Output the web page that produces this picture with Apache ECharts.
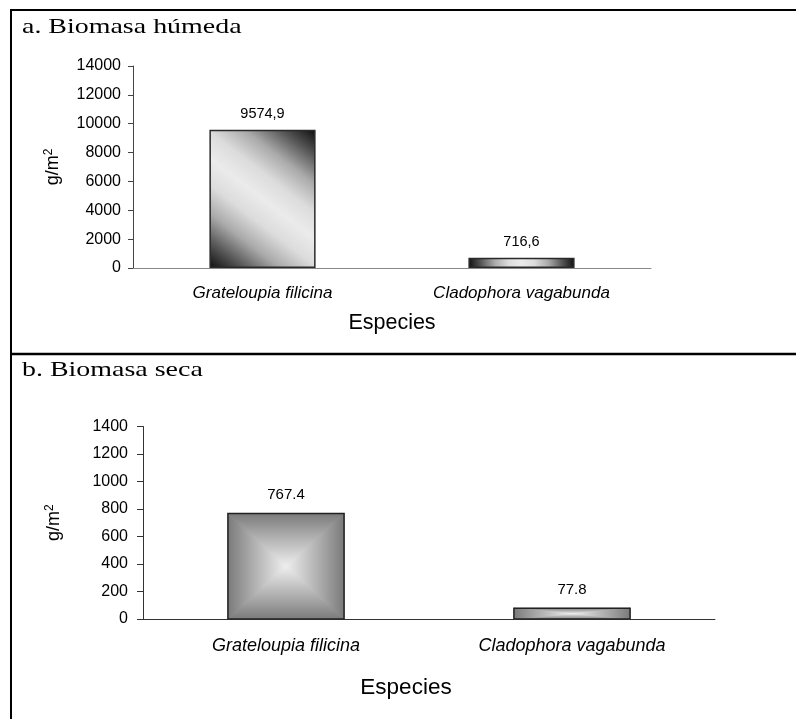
<!DOCTYPE html>
<html><head><meta charset="utf-8">
<script src="https://cdn.jsdelivr.net/npm/echarts@6/dist/echarts.min.js"></script>
<style>html,body{margin:0;padding:0;background:#fff}#c{width:796px;height:719px}</style>
</head><body><div id="c"></div>
<script>
// ---- data ----
const categories = ['Grateloupia filicina', 'Cladophora vagabunda'];
const wetBiomass = [9574.9, 716.6];
const dryBiomass = [767.4, 77.8];
const wetTicks = [0, 2000, 4000, 6000, 8000, 10000, 12000, 14000];
const dryTicks = [0, 200, 400, 600, 800, 1000, 1200, 1400];
const panelTitles = ['a. Biomasa húmeda', 'b. Biomasa seca'];
const xName = 'Especies';
const yNameRich = '{a|g/m}{b|2}';

const SANS = '"Liberation Sans", Arial, sans-serif';
const SERIF = '"Liberation Serif", "Times New Roman", serif';

const chart = echarts.init(document.getElementById('c'));

function yName(size) {
  return {
    rich: {
      a: { fontSize: size, fontFamily: SANS, color: '#000', lineHeight: 20 },
      b: { fontSize: 12, fontFamily: SANS, color: '#000', lineHeight: 12, verticalAlign: 'top' }
    }
  };
}

function boxGradientBar(params, api) {
  const idx = api.value(0), val = api.value(1);
  const top = api.coord([idx, val]);
  const base = api.coord([idx, 0]);
  const bw = api.size([1, 0])[0] * 0.406;
  const l = top[0] - bw / 2, r = top[0] + bw / 2, t = top[1], b = base[1];
  const cx = top[0], cy = (t + b) / 2;
  const edge = '#7a7a7a', mid = '#efefef';
  const lg = (x, y, x2, y2) => new echarts.graphic.LinearGradient(x, y, x2, y2,
    [{ offset: 0, color: edge }, { offset: 0.35, color: '#a4a4a4' }, { offset: 1, color: mid }]);
  const tri = (pts, g) => ({ type: 'polygon', shape: { points: pts }, style: { fill: g, stroke: g, lineWidth: 0.8 } });
  return {
    type: 'group', children: [
      { type: 'rect', shape: { x: l, y: t, width: r - l, height: b - t }, style: { fill: '#b8b8b8' } },
      tri([[l, t], [r, t], [cx, cy]], lg(0, 0, 0, 1)),
      tri([[l, b], [r, b], [cx, cy]], lg(0, 1, 0, 0)),
      tri([[l, t], [l, b], [cx, cy]], lg(0, 0, 1, 0)),
      tri([[r, t], [r, b], [cx, cy]], lg(1, 0, 0, 0)),
      { type: 'rect', shape: { x: l, y: t, width: r - l, height: b - t }, style: { fill: 'none', stroke: '#222', lineWidth: 1.5 } },
      { type: 'text', x: cx, y: t - 18.5, style: { text: String(val), font: '15px ' + SANS, fill: '#000', align: 'center', verticalAlign: 'middle', textAlign: 'center', textVerticalAlign: 'middle' } }
    ]
  };
}

const wetGradient = new echarts.graphic.LinearGradient(1, 0, 0, 1, [
  { offset: 0, color: '#0d0d0d' },
  { offset: 0.12, color: '#555555' },
  { offset: 0.25, color: '#aaaaaa' },
  { offset: 0.38, color: '#dcdcdc' },
  { offset: 0.5, color: '#ebebeb' },
  { offset: 0.62, color: '#dcdcdc' },
  { offset: 0.75, color: '#aaaaaa' },
  { offset: 0.88, color: '#555555' },
  { offset: 1, color: '#0d0d0d' }
]);

const plain = v => String(v);

const option = {
  animation: false,
  backgroundColor: '#fff',
  grid: [
    { left: 133, top: 66, width: 518, height: 202 },
    { left: 143, top: 426.5, width: 572, height: 192.5 }
  ],
  xAxis: [
    {
      gridIndex: 0, type: 'category', data: categories,
      axisLine: { lineStyle: { color: '#888', width: 1 } },
      axisTick: { length: 5, lineStyle: { color: '#888' } },
      axisLabel: { fontSize: 17, fontStyle: 'italic', fontFamily: SANS, color: '#000', margin: 17 },
      name: xName, nameLocation: 'middle', nameGap: 44,
      nameTextStyle: { fontSize: 21.5, fontFamily: SANS, color: '#000' }
    },
    {
      gridIndex: 1, type: 'category', data: categories,
      axisLine: { lineStyle: { color: '#333', width: 1 } },
      axisTick: { length: 6, lineStyle: { color: '#333' } },
      axisLabel: { fontSize: 18, fontStyle: 'italic', fontFamily: SANS, color: '#000', margin: 18 },
      name: xName, nameLocation: 'middle', nameGap: 57,
      nameTextStyle: { fontSize: 22.5, fontFamily: SANS, color: '#000', padding: [0, 46, 0, 0] }
    }
  ],
  yAxis: [
    {
      gridIndex: 0, type: 'value',
      min: wetTicks[0], max: wetTicks[wetTicks.length - 1], interval: wetTicks[1] - wetTicks[0],
      axisLine: { show: true, lineStyle: { color: '#444', width: 1 } },
      axisTick: { show: true, length: 5, lineStyle: { color: '#444' } },
      splitLine: { show: false },
      axisLabel: { fontSize: 16, fontFamily: SANS, color: '#000', margin: 12, formatter: plain },
      name: yNameRich, nameLocation: 'middle', nameRotate: 90, nameGap: 70,
      nameTextStyle: yName(18)
    },
    {
      gridIndex: 1, type: 'value',
      min: dryTicks[0], max: dryTicks[dryTicks.length - 1], interval: dryTicks[1] - dryTicks[0],
      axisLine: { show: true, lineStyle: { color: '#333', width: 1 } },
      axisTick: { show: true, length: 6, lineStyle: { color: '#333' } },
      splitLine: { show: false },
      axisLabel: { fontSize: 16, fontFamily: SANS, color: '#000', margin: 15, formatter: plain },
      name: yNameRich, nameLocation: 'middle', nameRotate: 90, nameGap: 79,
      nameTextStyle: yName(18)
    }
  ],
  series: [
    {
      type: 'bar', xAxisIndex: 0, yAxisIndex: 0, data: wetBiomass, barWidth: '41%',
      itemStyle: { color: wetGradient, borderColor: '#2a2a2a', borderWidth: 1.5 },
      label: {
        show: true, position: 'top', distance: 8.5, fontSize: 14.5, fontFamily: SANS, color: '#000',
        formatter: p => String(p.value).replace('.', ',')
      }
    },
    {
      type: 'custom', xAxisIndex: 1, yAxisIndex: 1,
      data: dryBiomass.map((v, i) => [i, v]),
      encode: { x: 0, y: 1 },
      renderItem: boxGradientBar
    }
  ],
  graphic: [
    { type: 'line', shape: { x1: 10, y1: 10, x2: 796, y2: 10 }, style: { stroke: '#000', lineWidth: 2 } },
    { type: 'line', shape: { x1: 11, y1: 9, x2: 11, y2: 719 }, style: { stroke: '#000', lineWidth: 2 } },
    { type: 'line', shape: { x1: 10, y1: 354, x2: 796, y2: 354 }, style: { stroke: '#000', lineWidth: 2.5 } },
    { type: 'text', x: 22, y: 27.6, scaleX: 1.27, style: { text: panelTitles[0], font: '22px ' + SERIF, fill: '#000', verticalAlign: 'middle', textVerticalAlign: 'middle' } },
    { type: 'text', x: 22, y: 370.6, scaleX: 1.27, style: { text: panelTitles[1], font: '22px ' + SERIF, fill: '#000', verticalAlign: 'middle', textVerticalAlign: 'middle' } }
  ]
};
chart.setOption(option);
</script>
</body></html>
